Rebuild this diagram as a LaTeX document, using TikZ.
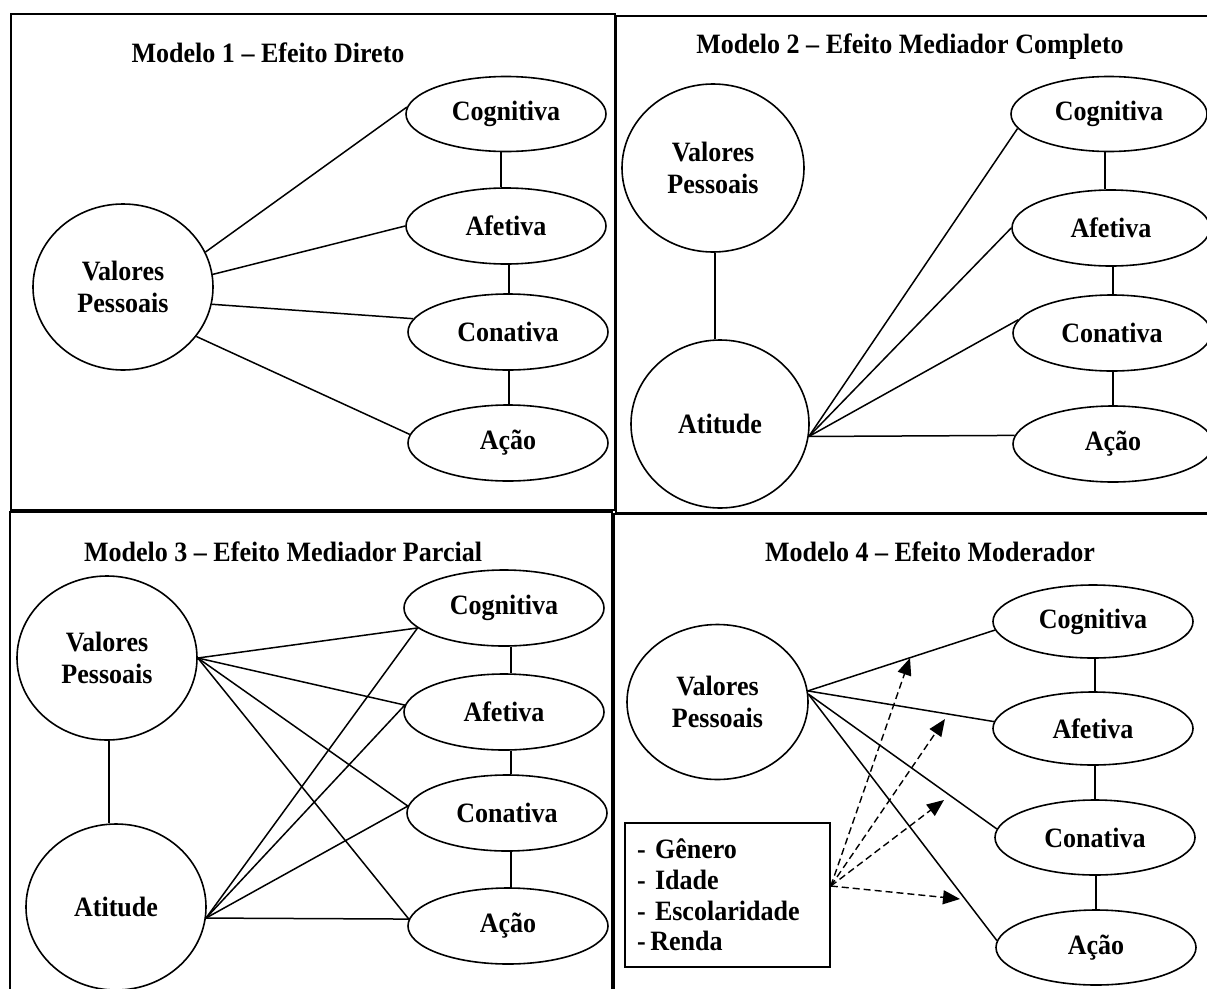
\documentclass[tikz,border=0pt]{standalone}
\usepackage{fontspec}
\setmainfont{Liberation Serif}[FakeStretch=0.93]
\usetikzlibrary{shapes.geometric,arrows.meta}

\begin{document}
\begin{tikzpicture}[x=1pt,y=-1pt,
  every node/.style={font=\fontsize{28}{32.5}\selectfont\bfseries},
  latent/.style={draw, ellipse, line width=1.6pt, inner sep=0pt, align=center},
  dim/.style={latent, minimum width=200pt, minimum height=76pt},
  panel/.style={draw, line width=1.8pt},
  link/.style={line width=1.5pt},
  listbox/.style={draw, rectangle, line width=1.6pt, inner ysep=0pt, inner xsep=12pt,
    align=left, font=\fontsize{28}{30.7}\selectfont\bfseries},
  moder/.style={line width=1.4pt, dash pattern=on 7pt off 4pt,
    -{Triangle[length=17pt,width=14pt]}}
]
\path[use as bounding box] (0,0) rectangle (1207,988);
\clip (0,0) rectangle (1207,988);
\fill[white] (0,0) rectangle (1207,988);

% frames of the four models
\draw[panel] (11,14) rectangle (615,510);
\draw[panel] (616,16) rectangle (1212,513);
\draw[panel] (10,512) rectangle (612,995);
\draw[panel] (614,514) rectangle (1212,995);

% ---------- Modelo 1 ----------
\node (h1) at (268,53) {Modelo 1 – Efeito Direto};
\node[latent, minimum width=180pt, minimum height=166pt] (v1) at (123,287) {Valores\\Pessoais};
\node[dim, minimum height=75pt] (c1) at (506,114) {Cognitiva};
\node[dim] (a1) at (506,226) {Afetiva};
\node[dim] (n1) at (508,332) {Conativa};
\node[dim] (o1) at (508,443) {Ação};
\draw[link] ([xshift=-5pt]c1.south) -- ([xshift=-5pt]a1.north);
\draw[link] ([xshift=3pt]a1.south) -- ([xshift=1pt]n1.north);
\draw[link] ([xshift=1pt]n1.south) -- ([xshift=1pt]o1.north);
\draw[link] (v1.23) -- (c1.176);
\draw[link] (v1.8) -- (a1.west);
\draw[link] (v1.-11) -- (n1.172);
\draw[link] (v1.-34) -- (o1.175);

% ---------- Modelo 2 ----------
\node (h2) at (910,47) {Modelo 2 – Efeito Mediador Completo};
\node[latent, minimum width=182pt, minimum height=168pt] (v2) at (713,168) {Valores\\Pessoais};
\node[latent, minimum width=178pt, minimum height=168pt] (t2) at (720,424) {Atitude};
\node[dim, minimum width=196pt, minimum height=75pt] (c2) at (1109,114) {Cognitiva};
\node[dim, minimum width=198pt] (a2) at (1111,228) {Afetiva};
\node[dim, minimum width=198pt] (n2) at (1112,333) {Conativa};
\node[dim] (o2) at (1113,444) {Ação};
\draw[link] ([xshift=2pt]v2.south) -- ([xshift=-5pt]t2.north);
\draw[link] ([xshift=-4pt]c2.south) -- ([xshift=-6pt]a2.north);
\draw[link] ([xshift=2pt]a2.south) -- ([xshift=1pt]n2.north);
\draw[link] ([xshift=1pt]n2.south) -- (o2.north);
\draw[link] (t2.-8) -- (c2.189);
\draw[link] (t2.-8) -- (a2.west);
\draw[link] (t2.-8) -- (n2.172);
\draw[link] (t2.-8) -- (o2.175);

% ---------- Modelo 3 ----------
\node (h3) at (283,552) {Modelo 3 – Efeito Mediador Parcial};
\node[latent, minimum width=180pt, minimum height=164pt] (v3) at (107,658) {Valores\\Pessoais};
\node[latent, minimum width=180pt, minimum height=166pt] (t3) at (116,907) {Atitude};
\node[dim] (c3) at (504,608) {Cognitiva};
\node[dim] (a3) at (504,712) {Afetiva};
\node[dim] (n3) at (507,813) {Conativa};
\node[dim] (o3) at (508,926) {Ação};
\draw[link] ([xshift=2pt]v3.south) -- ([xshift=-7pt]t3.north);
\draw[link] ([xshift=7pt]c3.south) -- ([xshift=7pt]a3.north);
\draw[link] ([xshift=7pt]a3.south) -- ([xshift=4pt]n3.north);
\draw[link] ([xshift=4pt]n3.south) -- ([xshift=3pt]o3.north);
\draw[link] (v3.east) -- (c3.193);
\draw[link] (v3.east) -- (a3.176);
\draw[link] (v3.east) -- (n3.176);
\draw[link] (v3.east) -- (o3.176);
\draw[link] (t3.-7) -- (c3.193);
\draw[link] (t3.-7) -- (a3.176);
\draw[link] (t3.-7) -- (n3.176);
\draw[link] (t3.-7) -- (o3.176);

% ---------- Modelo 4 ----------
\node (h4) at (930,552) {Modelo 4 – Efeito Moderador};
\node[latent, minimum width=181pt, minimum height=155pt] (v4) at (717.5,702) {Valores\\Pessoais};
\node[dim, minimum height=73pt] (c4) at (1093,621.5) {Cognitiva};
\node[dim, minimum height=73pt] (a4) at (1093,728.5) {Afetiva};
\node[dim, minimum height=75pt] (n4) at (1095,837.5) {Conativa};
\node[dim, minimum height=75pt] (o4) at (1096,947.5) {Ação};
\draw[link] ([xshift=2pt]c4.south) -- ([xshift=2pt]a4.north);
\draw[link] ([xshift=2pt]a4.south) -- (n4.north);
\draw[link] ([xshift=1pt]n4.south) -- (o4.north);
\draw[link] (v4.7) -- (c4.185);
\draw[link] (v4.7) -- (a4.176);
\draw[link] (v4.5) -- (n4.175);
\draw[link] (v4.5) -- (o4.176);

\node[listbox, text width=181pt, minimum height=144pt] (m4) at (727.5,895)
  {- Gênero\\- Idade\\- Escolaridade\\-\,Renda};

% moderator effects on the four paths
\coordinate (k1) at (910,658);
\coordinate (k2) at (945,719);
\coordinate (k3) at (944,800);
\coordinate (k4) at (960,899);
\draw[moder] ([yshift=9pt]m4.east) -- (k1);
\draw[moder] ([yshift=9pt]m4.east) -- (k2);
\draw[moder] ([yshift=9pt]m4.east) -- (k3);
\draw[moder] ([yshift=9pt]m4.east) -- (k4);
\end{tikzpicture}
\end{document}
